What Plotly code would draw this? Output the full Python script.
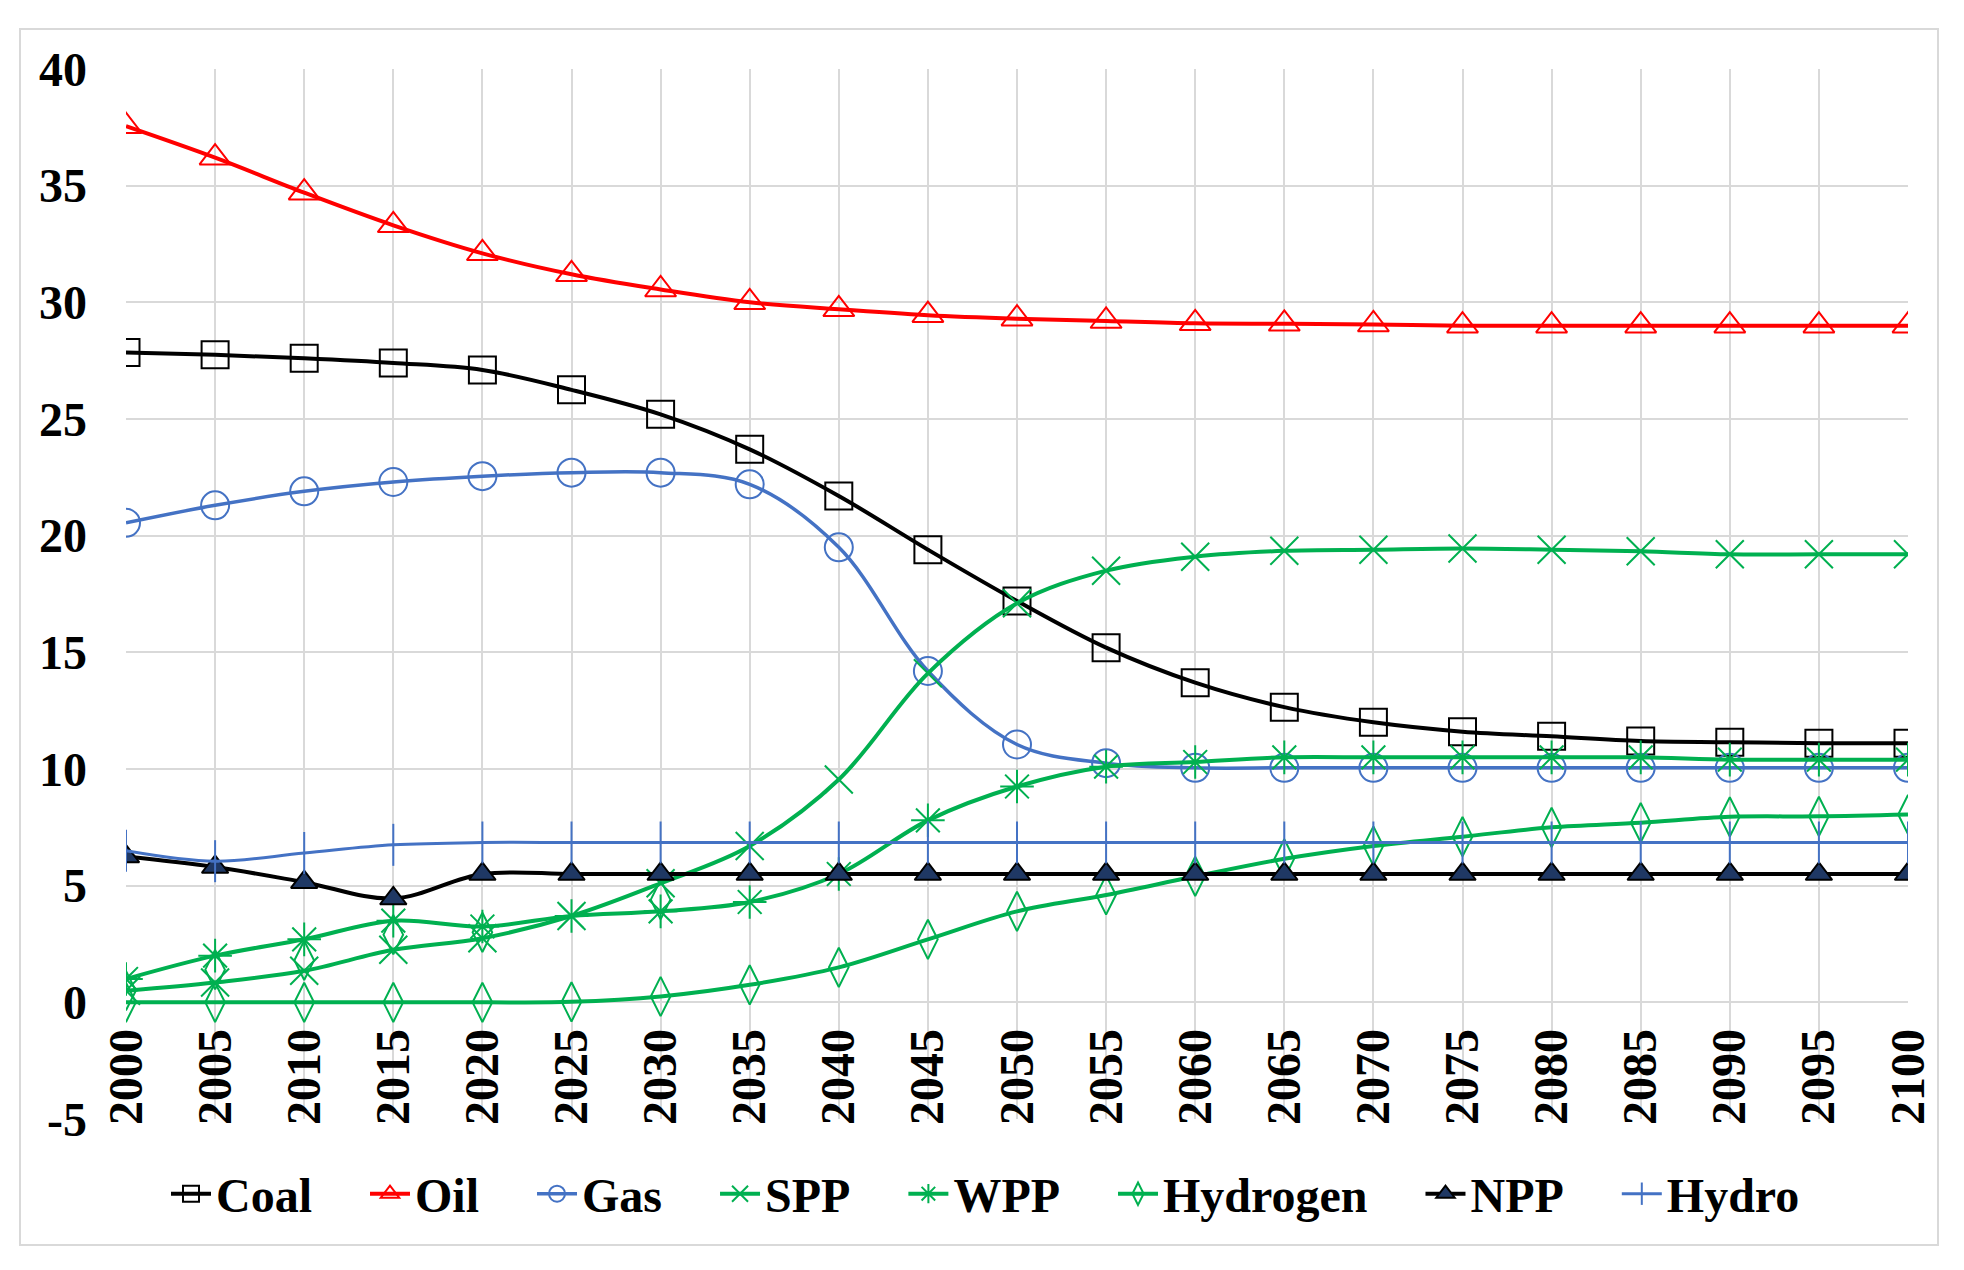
import plotly.graph_objects as go

years = list(range(2000, 2101, 5))

coal = [27.85, 27.75, 27.6, 27.4, 27.1, 26.25, 25.2, 23.7, 21.7, 19.4, 17.2, 15.2,
        13.7, 12.65, 12.0, 11.6, 11.4, 11.2, 11.15, 11.1, 11.1]
oil = [37.55, 36.2, 34.7, 33.3, 32.1, 31.2, 30.55, 30.0, 29.7, 29.45, 29.3, 29.2,
       29.1, 29.08, 29.05, 29.0, 29.0, 29.0, 29.0, 29.0, 29.0]
gas = [20.55, 21.3, 21.9, 22.3, 22.55, 22.7, 22.7, 22.2, 19.5, 14.2, 11.05, 10.25,
       10.05, 10.05, 10.05, 10.05, 10.05, 10.05, 10.05, 10.05, 10.05]
spp = [0.5, 0.85, 1.35, 2.25, 2.75, 3.7, 5.1, 6.7, 9.55, 14.1, 17.1, 18.5,
       19.1, 19.35, 19.4, 19.45, 19.4, 19.33, 19.2, 19.2, 19.2]
wpp = [1.0, 2.0, 2.7, 3.5, 3.25, 3.7, 3.9, 4.3, 5.5, 7.8, 9.25, 10.1,
       10.3, 10.5, 10.5, 10.5, 10.5, 10.5, 10.4, 10.4, 10.4]
hydrogen = [0.0, 0.0, 0.0, 0.0, 0.0, 0.02, 0.25, 0.75, 1.5, 2.7, 3.9, 4.6,
            5.4, 6.15, 6.7, 7.1, 7.5, 7.7, 7.95, 7.97, 8.05]
npp = [6.25, 5.8, 5.15, 4.45, 5.5, 5.5, 5.5, 5.5, 5.5, 5.5, 5.5, 5.5,
       5.5, 5.5, 5.5, 5.5, 5.5, 5.5, 5.5, 5.5, 5.5]
hydro = [6.5, 6.05, 6.4, 6.75, 6.85, 6.85, 6.85, 6.85, 6.85, 6.85, 6.85, 6.85,
         6.85, 6.85, 6.85, 6.85, 6.85, 6.85, 6.85, 6.85, 6.85]

# stray diamond markers visible in the original (markers only)
stray_years = [2000, 2005, 2010, 2015, 2020, 2030]
stray_vals = [0.5, 1.4, 1.8, 2.9, 3.0, 4.4]

names = ["Coal", "Oil", "Gas", "SPP", "WPP", "Hydrogen", "NPP", "Hydro"]
y_ticks = [-5, 0, 5, 10, 15, 20, 25, 30, 35, 40]
y_ticktext = ["-5", "0", "5", "10", "15", "20", "25", "30", "35", "40"]

BLACK = "#000000"
RED = "#ff0000"
BLUE = "#4472c4"
GREEN = "#00b050"
NAVY = "#1f3864"
FONT = "Liberation Serif"
FS = 48
pad = "\u00a0\u00a0\u00a0\u00a0"

fig = go.Figure()

def add(y, name, color, symbol, lw, msize, mline=None, fill=None):
    fig.add_trace(go.Scatter(
        x=years, y=y, name=name + pad, mode="lines+markers",
        line=dict(color=color, width=lw, shape="spline", smoothing=1.0),
        marker=dict(symbol=symbol, size=msize,
                    color=fill if fill else color,
                    line=dict(color=mline or color, width=2)),
    ))

add(coal, names[0], BLACK, "square-open", 4, 27)
add(oil, names[1], RED, "triangle-up-open", 4, 27)
add(gas, names[2], BLUE, "circle-open", 3.5, 28)
add(spp, names[3], GREEN, "x-thin-open", 4, 28)
add(wpp, names[4], GREEN, "asterisk-open", 4, 28)
add(hydrogen, names[5], GREEN, "diamond-tall-open", 4, 28)
fig.add_trace(go.Scatter(
    x=stray_years, y=stray_vals, mode="markers", showlegend=False, name="Hydrogen",
    marker=dict(symbol="diamond-tall-open", size=28, color=GREEN, line=dict(color=GREEN, width=2)),
))
add(npp, names[6], BLACK, "triangle-up", 4, 23, mline=BLACK, fill=NAVY)
add(hydro, names[7], BLUE, "line-ns-open", 3, 30)

# page body has an 8px margin: figure sized so that it fills the window
OFF = 8
W, H = 1964 - 2 * OFF, 1270 - 2 * OFF
L = 126 - OFF
T = 69 - OFF
R = W - (1908 - OFF)
B = H - (1119 - OFF)
pw, ph = W - L - R, H - T - B

def px_x(x):
    return (x - OFF - L) / pw

def px_y(y):
    return (H - B - (y - OFF)) / ph

fig.update_layout(
    template="none",
    width=W, height=H,
    margin=dict(l=L, r=R, t=T, b=B, autoexpand=False),
    paper_bgcolor="white", plot_bgcolor="white",
    font=dict(family=FONT, size=FS, color="black"),
    showlegend=True,
    legend=dict(
        orientation="h", xref="container", yref="container",
        x=(176 - OFF - 10) / W, xanchor="left",
        y=1 - (1194 - OFF) / H, yanchor="middle",
        font=dict(family=FONT, size=FS, color="black", weight="bold"),
        itemwidth=40, tracegroupgap=0, bgcolor="rgba(0,0,0,0)",
    ),
    xaxis=dict(
        range=[2000, 2100], tickmode="array", tickvals=years,
        ticktext=[str(y) for y in years], tickangle=-90,
        anchor="free", position=5 / 45, automargin=False,
        showgrid=True, gridcolor="#d9d9d9", gridwidth=2,
        zeroline=False, showline=False, ticks="",
        ticklabelstandoff=16,
        tickfont=dict(family=FONT, size=FS, color="black", weight="bold"),
    ),
    yaxis=dict(
        range=[-5, 40], tickmode="array", tickvals=y_ticks, ticktext=y_ticktext,
        automargin=False,
        showgrid=True, gridcolor="#d9d9d9", gridwidth=2,
        zeroline=False, showline=False, ticks="",
        ticklabelstandoff=38,
        tickfont=dict(family=FONT, size=FS, color="black", weight="bold"),
    ),
    shapes=[dict(
        type="rect", xref="paper", yref="paper", layer="below",
        x0=px_x(20), x1=px_x(1938), y0=px_y(1245), y1=px_y(29),
        line=dict(color="#d9d9d9", width=2), fillcolor="rgba(0,0,0,0)",
    )],
)

fig.write_html("out.html")
